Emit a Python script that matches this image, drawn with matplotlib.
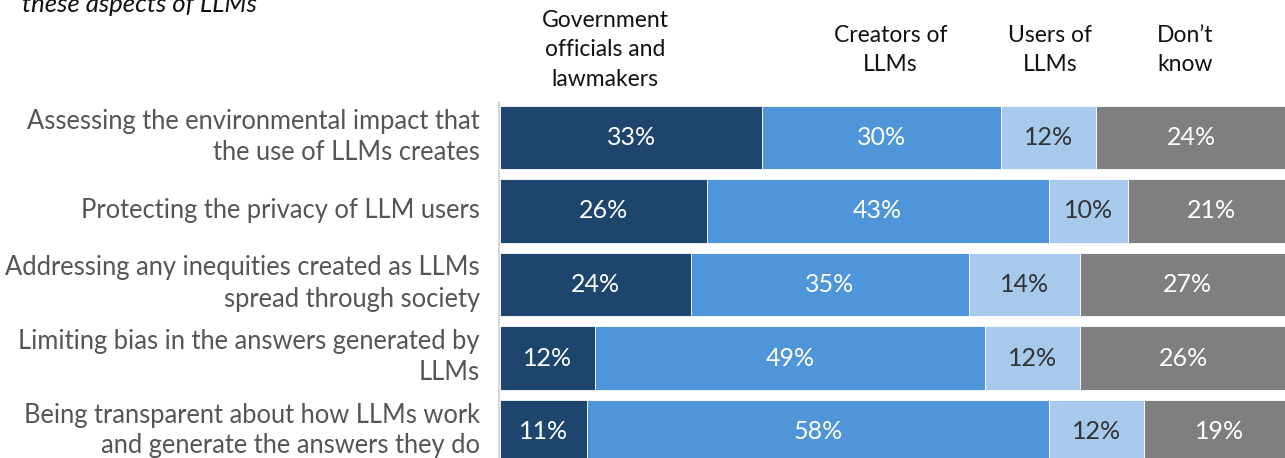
import matplotlib
matplotlib.use("Agg")
import matplotlib.pyplot as plt
import numpy as np

categories = [
    "Assessing the environmental impact that\nthe use of LLMs creates",
    "Protecting the privacy of LLM users",
    "Addressing any inequities created as LLMs\nspread through society",
    "Limiting bias in the answers generated by\nLLMs",
    "Being transparent about how LLMs work\nand generate the answers they do",
]
series_names = ["Government\nofficials and\nlawmakers", "Creators of\nLLMs", "Users of\nLLMs", "Don\u2019t\nknow"]
gov = [33, 26, 24, 12, 11]
creators = [30, 43, 35, 49, 58]
users = [12, 10, 14, 12, 12]
dont_know = [24, 21, 27, 26, 19]
header_x = [13.2, 49.1, 69.2, 86.2]

colors = ["#1d456d", "#4f95d9", "#a6c9ec", "#7f7f7f"]
text_colors = ["white", "white", "#333333", "white"]

plt.rcParams['font.family'] = ['Lato', 'DejaVu Sans']

W, H = 1285, 458
fig = plt.figure(figsize=(W / 100, H / 100), dpi=100)
x0 = 500
ax = fig.add_axes([x0 / W, 0, (W - x0) / W, 1])
px_per_pct = 7.95
ax.set_xlim(0, (W - x0) / px_per_pct)
step = 73.5
c0 = 137.5
ax.set_ylim((H - c0) / step, -c0 / step)
ax.axis("off")

y = np.arange(len(categories))
left = np.zeros(len(categories))
for vals, col, tc in zip([gov, creators, users, dont_know], colors, text_colors):
    vals = np.array(vals, dtype=float)
    ax.barh(y, vals, left=left, height=0.87, color=col, edgecolor="white", linewidth=0.6)
    for yi, l, v in zip(y, left, vals):
        ax.text(l + v / 2, yi, f"{int(v)}%", ha="center", va="center", color=tc, fontsize=18)
    left += vals

# left axis line
ax.plot([-0.12, -0.12], [(101 - c0) / step, (H - c0) / step], color="#d0d0d0", lw=1.2,
        clip_on=False, solid_capstyle="butt")

for name, hx in zip(series_names, header_x):
    ax.text(hx, (50 - c0) / step, name, ha="center", va="center", fontsize=16.5,
            color="#111111", linespacing=1.5)

for yi, cat in zip(y, categories):
    fig.text(480 / W, 1 - (c0 - 1 + yi * step) / H, cat, ha="right", va="center",
             fontsize=18.4, color="#555555", linespacing=1.3)

fig.text(22 / W, 1 - 12 / H, "these aspects of LLMs", ha="left", va="baseline",
         fontsize=18.5, style="italic", color="#111111")

fig.savefig("out.png", dpi=100)
